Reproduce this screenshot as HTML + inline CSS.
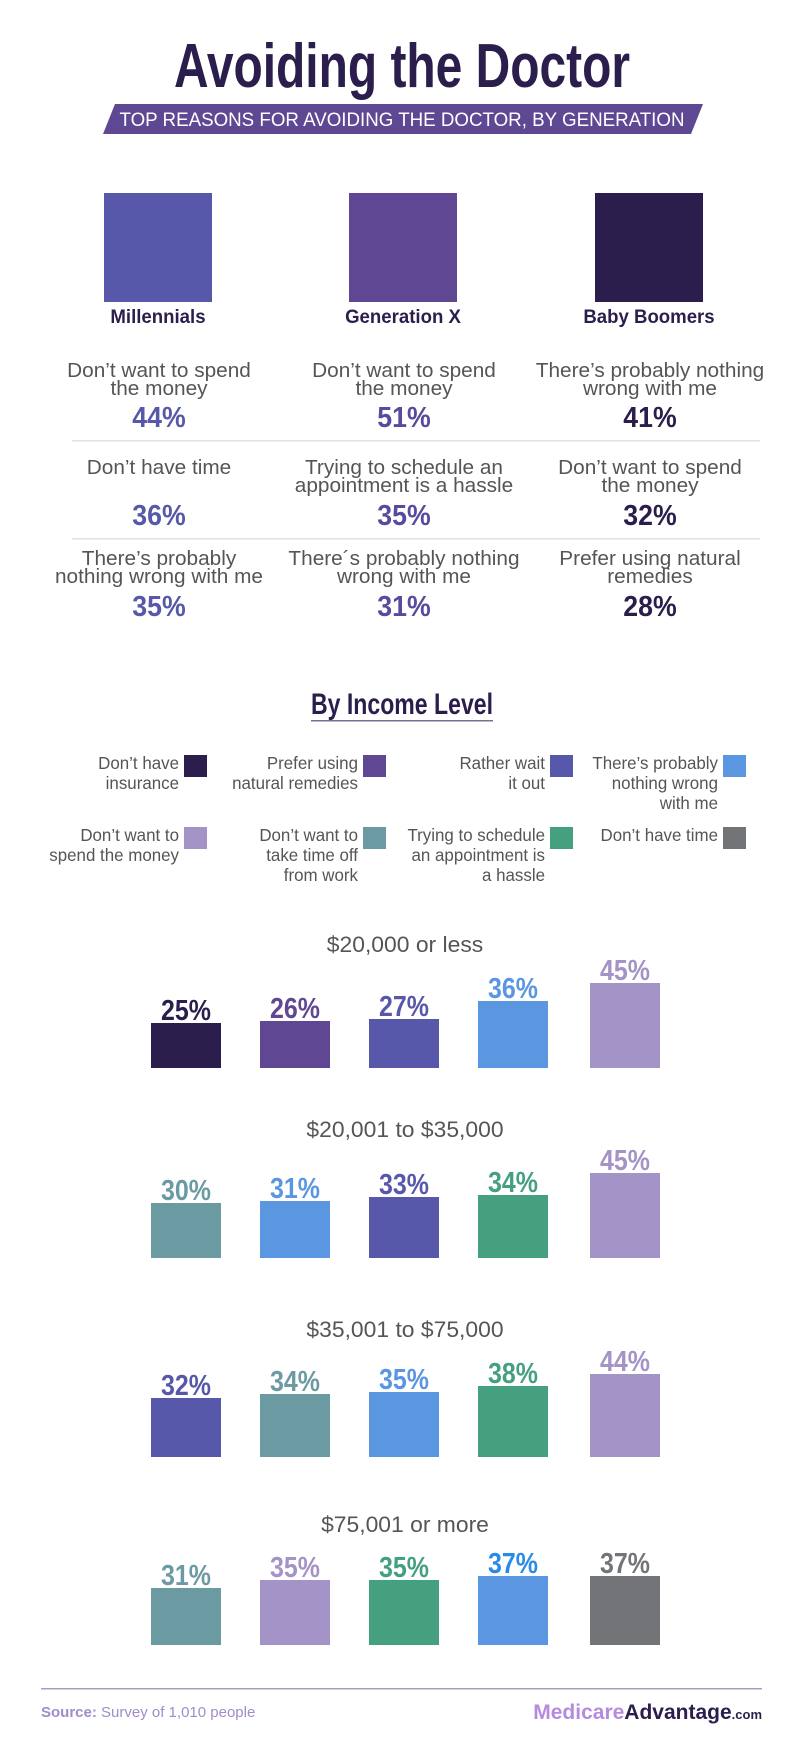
<!DOCTYPE html>
<html><head><meta charset="utf-8">
<style>
html,body{margin:0;padding:0;background:#fff;}
svg{display:block;}
text{font-family:"Liberation Sans Narrow","Liberation Sans",sans-serif;}
</style></head>
<body>
<svg id="chart" width="800" height="1739" viewBox="0 0 800 1739" xmlns="http://www.w3.org/2000/svg">
  <text x="402" y="87" text-anchor="middle" font-size="62" font-weight="bold" fill="#2b1e4c" textLength="456" lengthAdjust="spacingAndGlyphs">Avoiding the Doctor</text>
  <polygon points="115,104 703,104 691,134 103,134" fill="#5e4894"/>
  <text x="402" y="126" text-anchor="middle" font-size="19" fill="#fff" textLength="565" lengthAdjust="spacingAndGlyphs">TOP REASONS FOR AVOIDING THE DOCTOR, BY GENERATION</text>

  <rect x="104" y="193" width="108" height="109" fill="#5758aa"/>
  <rect x="349" y="193" width="108" height="109" fill="#5f4793"/>
  <rect x="595" y="193" width="108" height="109" fill="#2b1e4c"/>
  <g font-size="19" font-weight="bold" fill="#2b1e4c" text-anchor="middle" class="s" data-s="0.98">
    <text x="158" y="323">Millennials</text>
    <text x="403" y="323">Generation X</text>
    <text x="649" y="323">Baby Boomers</text>
  </g>

  <g font-size="20" fill="#555" text-anchor="middle" class="s" data-s="1.04">
    <text x="159" y="377">Don’t want to spend</text><text x="159" y="395">the money</text>
    <text x="404" y="377">Don’t want to spend</text><text x="404" y="395">the money</text>
    <text x="650" y="377">There’s probably nothing</text><text x="650" y="395">wrong with me</text>
    <text x="159" y="474">Don’t have time</text>
    <text x="404" y="474">Trying to schedule an</text><text x="404" y="492">appointment is a hassle</text>
    <text x="650" y="474">Don’t want to spend</text><text x="650" y="492">the money</text>
    <text x="159" y="565">There’s probably</text><text x="159" y="583">nothing wrong with me</text>
    <text x="404" y="565">There´s probably nothing</text><text x="404" y="583">wrong with me</text>
    <text x="650" y="565">Prefer using natural</text><text x="650" y="583">remedies</text>
  </g>
  <g font-size="29" font-weight="bold" text-anchor="middle" class="s" data-s="0.92">
    <text x="159" y="427" fill="#5758aa">44%</text><text x="404" y="427" fill="#5a4a9e">51%</text><text x="650" y="427" fill="#2b1e4c">41%</text>
    <text x="159" y="525" fill="#5758aa">36%</text><text x="404" y="525" fill="#5a4a9e">35%</text><text x="650" y="525" fill="#2b1e4c">32%</text>
    <text x="159" y="616" fill="#5758aa">35%</text><text x="404" y="616" fill="#5a4a9e">31%</text><text x="650" y="616" fill="#2b1e4c">28%</text>
  </g>
  <rect x="72" y="440" width="688" height="1.5" fill="#e2e2e2"/>
  <rect x="72" y="538" width="688" height="1.5" fill="#e2e2e2"/>

  <text x="402" y="714" text-anchor="middle" font-size="30" font-weight="bold" fill="#2b1e4c" textLength="182" lengthAdjust="spacingAndGlyphs">By Income Level</text>
  <rect x="311" y="720" width="182" height="1.5" fill="#7a6f90"/>

  <g id="legend" font-size="18" fill="#555" text-anchor="end" class="s" data-s="0.94"></g>
  <g id="bars"></g>

  <rect x="41" y="1688" width="721" height="1.5" fill="#a99cc4"/>
  <text x="41" y="1717" font-size="15" fill="#a08cc8"><tspan font-weight="bold">Source:</tspan> Survey of 1,010 people</text>
  <text x="762" y="1719" text-anchor="end" font-size="21" font-weight="bold"><tspan fill="#b58be0">Medicare</tspan><tspan fill="#2b1e4c">Advantage</tspan><tspan fill="#2b1e4c" font-size="13">.com</tspan></text>
</svg>
<script>
const legendNames = [["Don’t have","insurance"],["Prefer using","natural remedies"],["Rather wait","it out"],["There’s probably","nothing wrong","with me"],["Don’t want to","spend the money"],["Don’t want to","take time off","from work"],["Trying to schedule","an appointment is","a hassle"],["Don’t have time"]];
const legendColors = ["#2b1e4c","#5f4793","#5758aa","#5a97e0","#a393c6","#6c9aa2","#44a07e","#737478"];
const groupTitles = ["$20,000 or less","$20,001 to $35,000","$35,001 to $75,000","$75,001 or more"];
const groupCats = [[0,1,2,3,4],[5,3,2,6,4],[2,5,3,6,4],[5,4,6,3,7]];
const groupValues = [[25,26,27,36,45],[30,31,33,34,45],[32,34,35,38,44],[31,35,35,37,37]];

const NS = "http://www.w3.org/2000/svg";
function mk(tag, attrs){const e=document.createElementNS(NS,tag);for(const k in attrs)e.setAttribute(k,attrs[k]);return e;}
const lg = document.getElementById('legend');
const sqX = [184,363,550,723];
legendNames.forEach((lines,i)=>{
  const col=i%4,row=Math.floor(i/4);
  const sy=row?827:755;
  const s=mk('rect',{x:sqX[col],y:sy,width:23,height:22,fill:legendColors[i]});
  
  
  lg.appendChild(s);
  lines.forEach((ln,j)=>{
    const t=mk('text',{x:sqX[col]-5,y:sy+14+j*20});
    t.textContent=ln;
    
    
    lg.appendChild(t);
  });
});
const bg=document.getElementById('bars');
const titleY=[952,1137,1337,1532];
const baseY=[1068,1258,1457,1645];
const barX=[151,260,369,478,590];
function yScale(v){return (v-2.5)*2;}
const labelColorOverride={ "3,3":"#2a8ae8" };
groupTitles.forEach((title,g)=>{
  const t=mk('text',{x:405,y:titleY[g],'text-anchor':'middle','font-size':22,fill:'#555','data-sc':'1.04'});
  t.textContent=title;
  
  
  bg.appendChild(t);
  groupValues[g].forEach((v,i)=>{
    const h=yScale(v), c=legendColors[groupCats[g][i]];
    const r=mk('rect',{x:barX[i],y:baseY[g]-h,width:70,height:h,fill:c});
    
    
    bg.appendChild(r);
    const l=mk('text',{x:barX[i]+35,y:baseY[g]-h-3,'text-anchor':'middle','font-size':29,'font-weight':'bold',fill:labelColorOverride[g+","+i]||c,'data-sc':'0.86'});
    l.textContent=v+"%";
    
    
    bg.appendChild(l);
  });
});
function squeeze(t,k){
  const x=parseFloat(t.getAttribute('x'));
  t.setAttribute('transform','translate('+x+',0) scale('+k+',1) translate('+(-x)+',0)');
}
document.querySelectorAll('g.s').forEach(g=>{
  const k=parseFloat(g.getAttribute('data-s'));
  g.querySelectorAll('text').forEach(t=>squeeze(t,k));
});
document.querySelectorAll('text[data-sc]').forEach(t=>squeeze(t,parseFloat(t.getAttribute('data-sc'))));
</script>
</body></html>
